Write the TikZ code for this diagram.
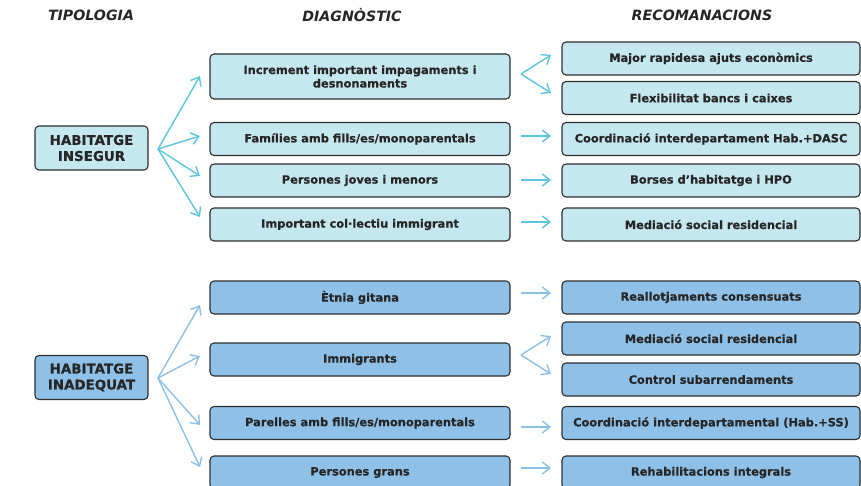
\documentclass[tikz,border=0pt]{standalone}
\usepackage{fontspec}
\setmainfont{DejaVu Sans}[BoldFeatures={FakeBold=0.6}]
\usetikzlibrary{arrows.meta}
\definecolor{fillA}{HTML}{C5E8F0}
\definecolor{fillB}{HTML}{8FC1E8}
\definecolor{arrA}{HTML}{5BC6DD}
\definecolor{arrB}{HTML}{8DC0E6}
\definecolor{txt}{HTML}{262626}
\definecolor{edge}{HTML}{2E2E2E}
\begin{document}
\begin{tikzpicture}[x=1pt,y=-1pt,
  box/.style={draw=edge, line width=1.1pt, rounded corners=4pt, inner sep=0pt,
    text=txt, align=center, font=\bfseries\fontsize{11.4}{13.5}\selectfont},
  boxA/.style={box, fill=fillA},
  boxB/.style={box, fill=fillB},
  diag/.style={minimum width=300pt, minimum height=33pt},
  rec/.style={minimum width=298pt, minimum height=33pt},
  typ/.style={minimum width=113pt, minimum height=44pt, font=\bfseries\fontsize{13.4}{16}\selectfont},
  head/.style={text=txt, font=\bfseries\itshape\fontsize{14.2}{16}\selectfont, inner sep=0pt},
  conA/.style={draw=arrA, line width=1.4pt, -{Straight Barb[length=7.5pt,width=12pt,line width=1.4pt]}},
  conB/.style={draw=arrB, line width=1.4pt, -{Straight Barb[length=7.5pt,width=12pt,line width=1.4pt]}}
]
\useasboundingbox (0,0) rectangle (861,486);

% headers
\node[head] (h1) at (91,15) {TIPOLOGIA};
\node[head] (h2) at (352,15) {DIAGNÒSTIC};
\node[head] (h3) at (702,15) {RECOMANACIONS};

% ---------- top section ----------
\node[boxA, typ] (t1) at (91.5,148) {HABITATGE\\INSEGUR};
\node[boxA, diag, minimum height=45pt] (d1) at (360,76.5) {Increment important impagaments i\\desnonaments};
\node[boxA, diag] (d2) at (360,139) {Famílies amb fills/es/monoparentals};
\node[boxA, diag] (d3) at (360,180.5) {Persones joves i menors};
\node[boxA, diag] (d4) at (360,224.5) {Important col·lectiu immigrant};

\node[boxA, rec] (r1) at (711,58.5) {Major rapidesa ajuts econòmics};
\node[boxA, rec] (r2) at (711,98) {Flexibilitat bancs i caixes};
\node[boxA, rec] (r3) at (711,139) {Coordinació interdepartament Hab.+DASC};
\node[boxA, rec] (r4) at (711,180.5) {Borses d’habitatge i HPO};
\node[boxA, rec] (r5) at (711,224.5) {Mediació social residencial};

\coordinate (ta) at (158,149);
\coordinate (ta1) at (200,76);
\coordinate (ta2) at (200,136);
\coordinate (ta3) at (200,176);
\coordinate (ta4) at (200,217);
\foreach \i in {1,...,4} \draw[conA] (ta) -- (ta\i);

\coordinate (fa) at (521,74);
\coordinate (fa1) at (551,55);
\coordinate (fa2) at (551,93);
\draw[conA] (fa) -- (fa1);
\draw[conA] (fa) -- (fa2);
\coordinate (sa3) at (521,136); \coordinate (ea3) at (551,136);
\coordinate (sa4) at (521,180); \coordinate (ea4) at (551,180);
\coordinate (sa5) at (521,222); \coordinate (ea5) at (551,222);
\draw[conA] (sa3) -- (ea3);
\draw[conA] (sa4) -- (ea4);
\draw[conA] (sa5) -- (ea5);

% ---------- bottom section ----------
\node[boxB, typ] (t2) at (91.5,377.5) {HABITATGE\\INADEQUAT};
\node[boxB, diag] (e1) at (360,297.5) {Ètnia gitana};
\node[boxB, diag] (e2) at (360,359.5) {Immigrants};
\node[boxB, diag] (e3) at (360,423) {Parelles amb fills/es/monoparentals};
\node[boxB, diag] (e4) at (360,472.5) {Persones grans};

\node[boxB, rec] (s1) at (711,297.5) {Reallotjaments consensuats};
\node[boxB, rec] (s2) at (711,338.5) {Mediació social residencial};
\node[boxB, rec] (s3) at (711,379.5) {Control subarrendaments};
\node[boxB, rec] (s4) at (711,423) {Coordinació interdepartamental (Hab.+SS)};
\node[boxB, rec] (s5) at (711,472.5) {Rehabilitacions integrals};

\coordinate (tb) at (158,378);
\coordinate (tb1) at (200,305);
\coordinate (tb2) at (200,356);
\coordinate (tb3) at (200,425);
\coordinate (tb4) at (200,467);
\foreach \i in {1,...,4} \draw[conB] (tb) -- (tb\i);

\coordinate (sb1) at (521,293); \coordinate (eb1) at (551,293);
\draw[conB] (sb1) -- (eb1);
\coordinate (fb) at (521,355);
\coordinate (fb1) at (551,336);
\coordinate (fb2) at (551,374);
\draw[conB] (fb) -- (fb1);
\draw[conB] (fb) -- (fb2);
\coordinate (sb4) at (521,427); \coordinate (eb4) at (551,427);
\coordinate (sb5) at (521,468); \coordinate (eb5) at (551,468);
\draw[conB] (sb4) -- (eb4);
\draw[conB] (sb5) -- (eb5);
\end{tikzpicture}
\end{document}
